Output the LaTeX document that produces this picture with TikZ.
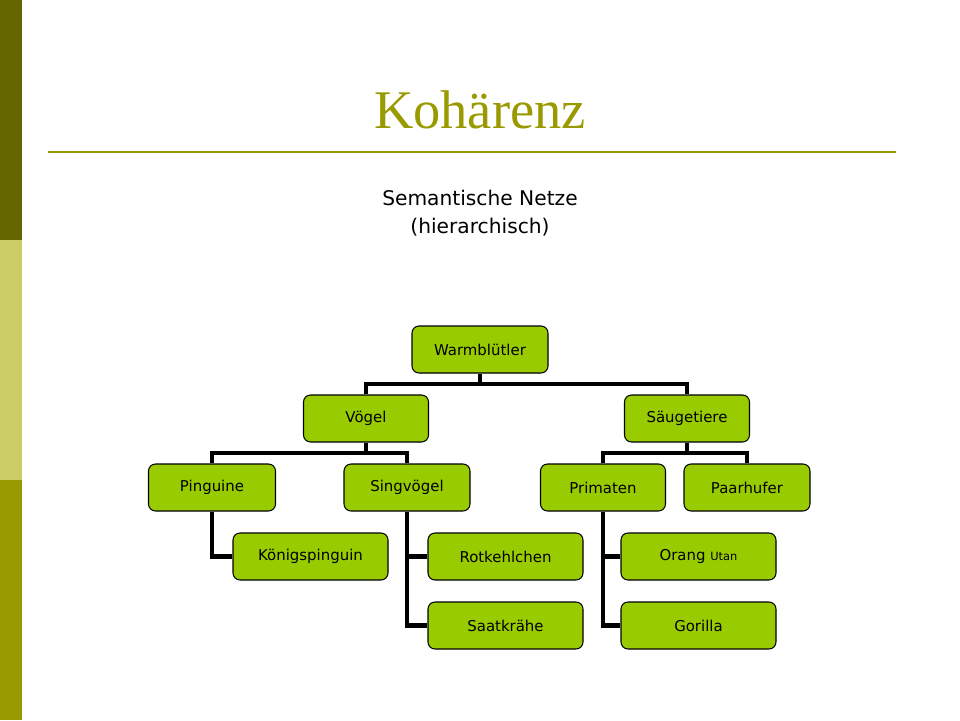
\documentclass[tikz,border=0pt]{standalone}
\usepackage{fontspec}
\setmainfont{DejaVu Sans}
\newfontfamily\titlefont{Liberation Serif}
\usetikzlibrary{positioning}
\definecolor{olivedark}{HTML}{666600}
\definecolor{olivelight}{HTML}{CCCC66}
\definecolor{olivemid}{HTML}{999900}
\definecolor{leafgreen}{HTML}{99CC00}
\tikzset{
    box/.style={draw=black, fill=leafgreen, rounded corners=4pt, line width=0.6pt,
        minimum width=#1*0.02cm, minimum height=0.94cm, font=\fontsize{8.5}{10}\selectfont, inner sep=0pt},
    box/.default=125,
    link/.style={line width=2.6pt}
}
\begin{document}
\begin{tikzpicture}[x=0.02cm,y=-0.02cm]
\useasboundingbox (0,0) rectangle (960,720);
% side bar
\fill[olivedark] (0,0) rectangle (22,240);
\fill[olivelight] (0,240) rectangle (22,480);
\fill[olivemid] (0,480) rectangle (22,720);
% title
\node[font=\titlefont\fontsize{31}{34}\selectfont, text=olivemid] (title) at (480,110) {Kohärenz};
\draw[olivemid, line width=1pt] (48,152) -- (896,152);
\node[font=\fontsize{11.5}{16}\selectfont, align=center] (sub) at (480,213) {Semantische Netze\\(hierarchisch)};
% nodes
\node[box=136] (warm) at (480,349.5) {Warmblütler};
\node[box] (voegel) at (366,418.5) {Vögel};
\node[box] (saeug) at (687,418.5) {Säugetiere};
\node[box=127] (ping) at (212,487.5) {Pinguine};
\node[box=126] (sing) at (407,487.5) {Singvögel};
\node[box] (prim) at (603,487.5) {Primaten};
\node[box=126] (paar) at (747,487.5) {Paarhufer};
\node[box=155] (koenig) at (310.5,556.5) {Königspinguin};
\node[box=155] (rot) at (505.5,556.5) {Rotkehlchen};
\node[box=155] (saat) at (505.5,625.5) {Saatkrähe};
\node[box=155] (orang) at (698.5,556.5) {Orang {\fontsize{6.5}{8}\selectfont Utan}};
\node[box=155] (gor) at (698.5,625.5) {Gorilla};
% connectors
\coordinate (j1) at (480,384);
\coordinate (j2) at (366,453);
\coordinate (j3) at (687,453);
\draw[link] (warm.south) -- (j1) (voegel.north) |- (j1) -| (saeug.north);
\draw[link] (voegel.south) -- (j2) (ping.north) |- (j2) -| (sing.north);
\draw[link] (saeug.south) -- (j3) (prim.north) |- (j3) -| (paar.north);
\draw[link] (ping.south) |- (koenig.west);
\draw[link] (sing.south) |- (rot.west) (sing.south) |- (saat.west);
\draw[link] (prim.south) |- (orang.west) (prim.south) |- (gor.west);
\end{tikzpicture}
\end{document}
